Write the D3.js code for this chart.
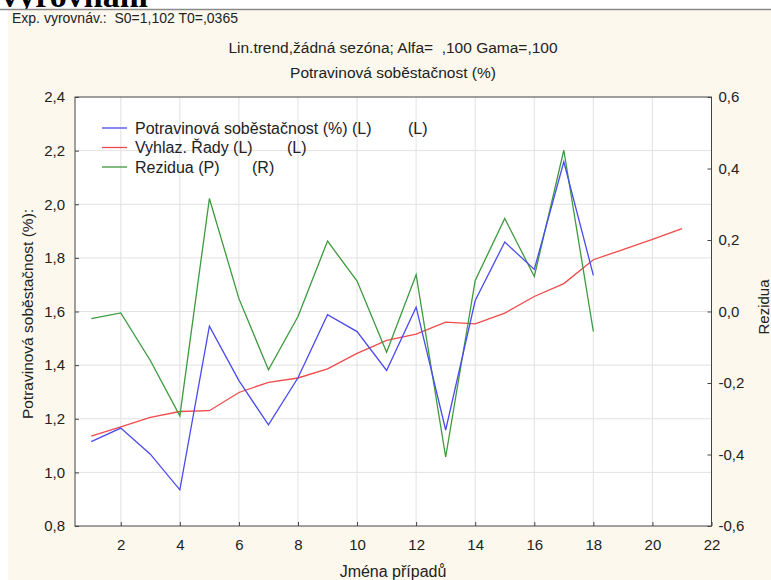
<!DOCTYPE html>
<html><head><meta charset="utf-8">
<script src="https://cdn.jsdelivr.net/npm/d3@7"></script>
<style>html,body{margin:0;padding:0;background:#fff;}svg{display:block;}</style>
</head><body>
<script>
const cases = d3.range(1, 22); // 1..21
const observed = [1.115,1.165,1.068,0.935,1.545,1.342,1.177,1.353,1.588,1.525,1.380,1.616,1.158,1.641,1.859,1.757,2.158,1.735];
const smoothed = [1.135,1.170,1.205,1.227,1.230,1.298,1.336,1.352,1.386,1.444,1.492,1.516,1.560,1.554,1.594,1.656,1.704,1.793,1.831,1.869,1.909];
const residuals = [-0.020,-0.004,-0.137,-0.292,0.316,0.036,-0.163,-0.014,0.197,0.085,-0.114,0.103,-0.407,0.087,0.260,0.098,0.451,-0.056];
const xTicks = [2,4,6,8,10,12,14,16,18,20,22];
const yLeftTicks = [0.8,1.0,1.2,1.4,1.6,1.8,2.0,2.2,2.4];
const yRightTicks = [-0.6,-0.4,-0.2,0.0,0.2,0.4,0.6];
const legendItems = [
  {label:"Potravinová soběstačnost (%) (L)", suffix:"(L)", sx:408, color:"#4a4af0"},
  {label:"Vyhlaz. Řady (L)", suffix:"(L)", sx:287, color:"#f04a4a"},
  {label:"Rezidua (P)", suffix:"(R)", sx:252, color:"#3d9a3d"}
];

const W = 771, H = 580;
const L = 75, R = 711.5, T = 97, B = 526;
const font = "'Liberation Sans', Arial, sans-serif";
const fmt = v => d3.format(".1f")(v).replace(".", ",").replace("\u2212", "-");

const svg = d3.select("body").append("svg").attr("width", W).attr("height", H);
svg.append("rect").attr("x",0).attr("y",0).attr("width",W).attr("height",H).attr("fill","#fff");
svg.append("text").attr("x",148).attr("y",7).attr("text-anchor","end")
  .attr("font-family","'Liberation Serif', 'Times New Roman', serif").attr("font-weight","bold")
  .attr("font-size",34).attr("fill","#000").text("vyrovnání");
svg.append("rect").attr("x",0).attr("y",10).attr("width",8).attr("height",H-10).attr("fill","#fff");
svg.append("rect").attr("x",8).attr("y",10).attr("width",W-8).attr("height",H-10).attr("fill","#fcf8ed");
svg.append("line").attr("x1",0).attr("x2",W).attr("y1",9.5).attr("y2",9.5).attr("stroke","#8a8a8a").attr("stroke-width",1.5);

const x = d3.scaleLinear().domain([0.45, 22]).range([L, R]);
const yL = d3.scaleLinear().domain([0.8, 2.4]).range([B, T]);
const yR = d3.scaleLinear().domain([-0.6, 0.6]).range([B, T]);

svg.append("rect").attr("x",L).attr("y",T).attr("width",R-L).attr("height",B-T).attr("fill","#fff");

// grid
const g = svg.append("g");
g.selectAll(".vg").data(xTicks.filter(d=>d<22)).join("line")
  .attr("x1",d=>x(d)).attr("x2",d=>x(d)).attr("y1",T).attr("y2",B)
  .attr("stroke","#e2e2e2").attr("stroke-width",1);
g.selectAll(".hg").data(yLeftTicks.filter(d=>d>0.8 && d<2.4)).join("line")
  .attr("x1",L).attr("x2",R).attr("y1",d=>yL(d)).attr("y2",d=>yL(d))
  .attr("stroke","#e2e2e2").attr("stroke-width",1);

// axes (ticks inward)
const axB = svg.append("g").attr("transform",`translate(0,${B})`)
  .call(d3.axisBottom(x).tickValues(xTicks).tickSize(-4).tickPadding(13).tickFormat(d3.format("d")));
const axL = svg.append("g").attr("transform",`translate(${L},0)`)
  .call(d3.axisLeft(yL).tickValues(yLeftTicks).tickSize(-4).tickPadding(10).tickFormat(fmt));
const axR = svg.append("g").attr("transform",`translate(${R},0)`)
  .call(d3.axisRight(yR).tickValues(yRightTicks).tickSize(-4).tickPadding(7).tickFormat(fmt));
[axB, axL, axR].forEach(a => {
  a.select(".domain").remove();
  a.selectAll(".tick line").attr("stroke","#444");
  a.selectAll("text").attr("font-family",font).attr("font-size",15).attr("fill","#222");
});

// frame
svg.append("rect").attr("x",L).attr("y",T).attr("width",R-L).attr("height",B-T)
  .attr("fill","none").attr("stroke","#444").attr("stroke-width",1);

// lines
const lineL = d3.line().x((d,i)=>x(cases[i])).y(d=>yL(d));
const lineR = d3.line().x((d,i)=>x(cases[i])).y(d=>yR(d));
svg.append("path").datum(smoothed).attr("d",lineL).attr("fill","none").attr("stroke",legendItems[1].color).attr("stroke-width",1.3);
svg.append("path").datum(residuals).attr("d",lineR).attr("fill","none").attr("stroke",legendItems[2].color).attr("stroke-width",1.3);
svg.append("path").datum(observed).attr("d",lineL).attr("fill","none").attr("stroke",legendItems[0].color).attr("stroke-width",1.3);

// legend
const lg = svg.append("g");
legendItems.forEach((it,i) => {
  const yy = 128 + i*19.5;
  lg.append("line").attr("x1",102).attr("x2",127).attr("y1",yy).attr("y2",yy).attr("stroke",it.color).attr("stroke-width",1.3);
  lg.append("text").attr("x",135).attr("y",yy+5.5).attr("font-family",font).attr("font-size",16).attr("fill","#222").text(it.label);
  lg.append("text").attr("x",it.sx).attr("y",yy+5.5).attr("font-family",font).attr("font-size",16).attr("fill","#222").text(it.suffix);
});

// titles
const txt = (xx,yy,s,anchor,fs) => svg.append("text").attr("x",xx).attr("y",yy).attr("text-anchor",anchor||"start")
  .attr("font-family",font).attr("font-size",fs||15).attr("fill","#222").text(s);
txt(12, 23, "Exp. vyrovnáv.:  S0=1,102 T0=,0365", "start", 14).attr("xml:space","preserve");
txt(393, 53, "Lin.trend,žádná sezóna; Alfa=  ,100 Gama=,100", "middle", 15.5).attr("xml:space","preserve");
txt(393, 78, "Potravinová soběstačnost (%)", "middle", 15.5);
txt(393, 577, "Jména případů", "middle", 16);
svg.append("text").attr("transform","translate(33,314) rotate(-90)").attr("text-anchor","middle")
  .attr("font-family",font).attr("font-size",15.5).attr("fill","#222").text("Potravinová soběstačnost (%):");
svg.append("text").attr("transform","translate(769,307) rotate(-90)").attr("text-anchor","middle")
  .attr("font-family",font).attr("font-size",15).attr("fill","#222").text("Rezidua");
</script>
</body></html>
